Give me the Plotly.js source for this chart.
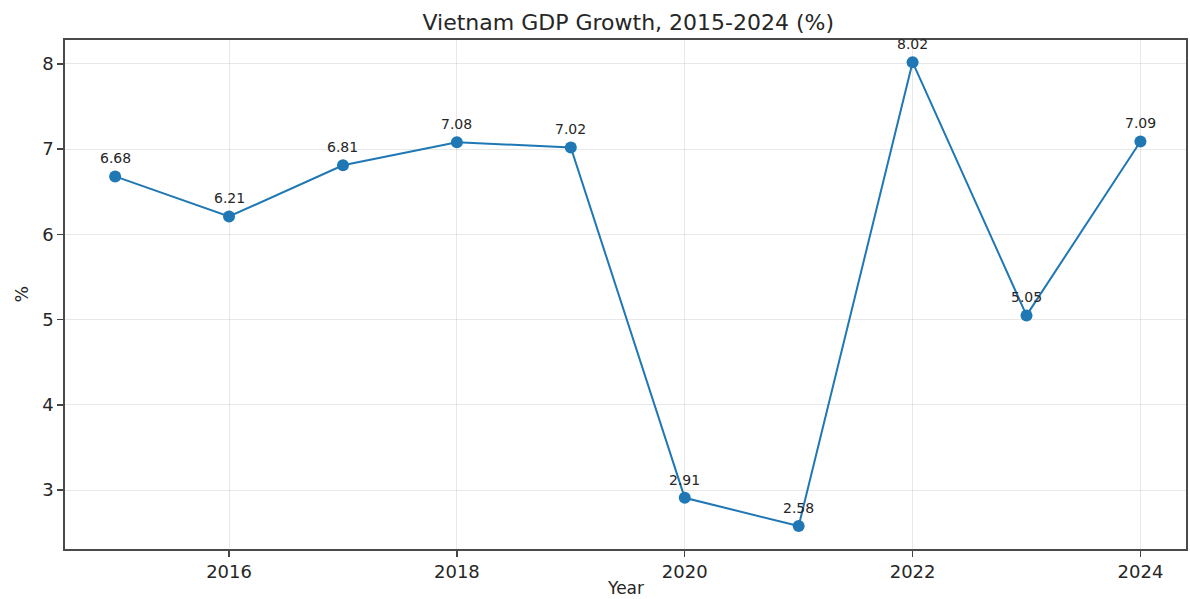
<!DOCTYPE html>
<html>
<head>
<meta charset="utf-8">
<script src="https://cdn.plot.ly/plotly-3.0.1.min.js"></script>
<style>
  html, body { margin: 0; padding: 0; background: #fff; }
  #chart { width: 1190px; height: 599px; }
</style>
</head>
<body>
<div id="chart"></div>
<script>
const years = [2015, 2016, 2017, 2018, 2019, 2020, 2021, 2022, 2023, 2024];
const gdpGrowth = [6.68, 6.21, 6.81, 7.08, 7.02, 2.91, 2.58, 8.02, 5.05, 7.09];
const valueLabels = ["6.68", "6.21", "6.81", "7.08", "7.02", "2.91", "2.58", "8.02", "5.05", "7.09"];
const xTicks = [2016, 2018, 2020, 2022, 2024];
const yTicks = [3, 4, 5, 6, 7, 8];

const FONT = "DejaVu Sans, sans-serif";
const BLUE = "#1f77b4";
const TEXT = "#262626";

const trace = {
  x: years,
  y: gdpGrowth,
  type: "scatter",
  mode: "lines+markers",
  line: { color: BLUE, width: 2 },
  marker: { color: BLUE, size: 12 },
  hoverinfo: "skip",
  cliponaxis: false
};

const annotations = years.map((yr, i) => ({
  x: yr,
  y: gdpGrowth[i],
  xref: "x",
  yref: "y",
  text: valueLabels[i],
  showarrow: false,
  yshift: 18,
  font: { family: FONT, size: 14, color: TEXT }
}));

annotations.push({
  text: "Year",
  xref: "paper", yref: "paper",
  x: 0.5, y: 0, yshift: -39,
  xanchor: "center", yanchor: "middle",
  showarrow: false,
  font: { family: FONT, size: 17, color: TEXT }
});
annotations.push({
  text: "%",
  xref: "paper", yref: "paper",
  x: 0, xshift: -44, y: 0.5,
  xanchor: "center", yanchor: "middle",
  textangle: -90,
  showarrow: false,
  font: { family: FONT, size: 17.5, color: TEXT }
});

const axisCommon = {
  ticks: "outside",
  ticklen: 6,
  tickwidth: 1.5,
  tickcolor: "#444",
  tickfont: { family: FONT, size: 18, color: TEXT },
  showgrid: true,
  gridcolor: "rgba(0,0,0,0.09)",
  gridwidth: 1,
  zeroline: false,
  showline: true,
  linecolor: "#4a4a4a",
  linewidth: 1.8,
  mirror: true
};

const layout = {
  width: 1190,
  height: 599,
  paper_bgcolor: "#fff",
  plot_bgcolor: "#fff",
  margin: { l: 65, r: 4, t: 40, b: 50, pad: 0 },
  showlegend: false,
  title: {
    text: "Vietnam GDP Growth, 2015-2024 (%)",
    font: { family: FONT, size: 22, color: TEXT },
    x: 0.528, xanchor: "center",
    y: 0.963, yanchor: "middle"
  },
  xaxis: Object.assign({}, axisCommon, {
    range: [2014.56, 2024.40],
    tickmode: "array",
    tickvals: xTicks,
    ticktext: xTicks.map(String)
  }),
  yaxis: Object.assign({}, axisCommon, {
    range: [2.31, 8.28],
    tickmode: "array",
    tickvals: yTicks,
    ticktext: yTicks.map(String)
  }),
  annotations: annotations
};

Plotly.newPlot("chart", [trace], layout, { staticPlot: true, displayModeBar: false });
</script>
</body>
</html>
